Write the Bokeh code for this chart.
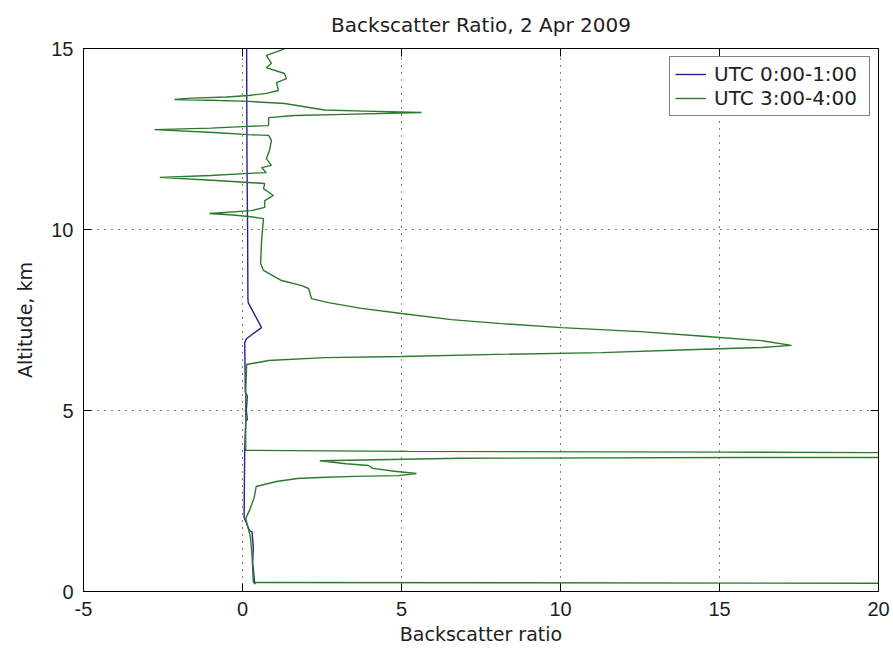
from bokeh.plotting import figure
from bokeh.models import Range1d, LinearAxis, FixedTicker, Legend, LegendItem, CustomJSTickFormatter
from bokeh.embed import file_html
from bokeh.resources import INLINE

# UTC 0:00-1:00 profile
blue_x = [0.13, 0.14, 0.16, 0.17, 0.18, 0.60, 0.13, 0.07, 0.09, 0.15, 0.12, 0.15, 0.10, 0.07, 0.05, 0.22, 0.30, 0.34, 0.32, 0.38, 0.40]
blue_y = [15.0, 12.0, 10.0, 8.10, 7.98, 7.29, 6.99, 6.88, 5.50, 5.40, 5.00, 4.75, 4.70, 3.90, 2.05, 1.68, 1.65, 1.20, 0.80, 0.24, 0.20]

# UTC 3:00-4:00 profile
green_x = [1.32, 1.20, 0.75, 0.91, 0.75, 1.32, 1.38, 1.07, 1.13, 0.75, 0.19, -0.5, -1.6, -2.14, -1.0, 0.19,
           1.32, 2.58, 3.84, 5.63, 3.2, 1.64, 0.82, 0.82, 0.19, -1.0, -2.77, -0.91, 0.19, 0.82, 0.91, 0.85,
           0.75, 0.91, 0.60, 0.75, 0.19, -1.0, -2.6, -0.97, 0.19, 0.70, 0.66, 0.97, 0.70, 0.70, 0.28, -1.04,
           -0.3, 0.19, 0.66, 0.62, 0.60, 0.57, 0.66, 1.23, 1.86, 2.08, 2.17, 2.70, 3.74, 5.00, 6.57, 8.14,
           10.03, 12.5, 14.5, 16.3, 17.26, 16.3, 14.0, 11.29, 8.0, 5.00, 2.58, 0.82, 0.13, 0.10, 0.10, 0.10,
           5.2, 15.1, 25.0, 25.0, 15.6, 6.87, 2.43, 3.27, 3.96, 4.1, 4.78, 5.47, 4.9, 3.5, 2.43, 1.73,
           1.07, 0.43, 0.37, 0.22, 0.10, 0.25, 0.30, 0.34, 25.0]
green_y = [15.0, 14.95, 14.81, 14.59, 14.47, 14.31, 14.17, 14.06, 13.84, 13.76, 13.70, 13.66, 13.63, 13.59, 13.57, 13.54,
           13.48, 13.30, 13.27, 13.23, 13.18, 13.15, 13.09, 12.87, 12.85, 12.80, 12.76, 12.68, 12.62, 12.60, 12.46, 12.18,
           11.96, 11.77, 11.71, 11.57, 11.55, 11.49, 11.44, 11.36, 11.30, 11.27, 11.13, 10.94, 10.80, 10.61, 10.52, 10.44,
           10.40, 10.36, 10.30, 9.90, 9.70, 9.06, 8.87, 8.59, 8.45, 8.37, 8.09, 7.98, 7.82, 7.68, 7.51, 7.40,
           7.29, 7.18, 7.05, 6.93, 6.80, 6.74, 6.68, 6.60, 6.55, 6.49, 6.46, 6.38, 6.27, 5.50, 4.50, 3.90,
           3.87, 3.85, 3.82, 3.70, 3.70, 3.68, 3.61, 3.53, 3.48, 3.40, 3.32, 3.26, 3.20, 3.18, 3.15, 3.12,
           3.04, 2.90, 2.60, 2.24, 2.02, 1.50, 1.00, 0.25, 0.22]

x_ticks = [-5, 0, 5, 10, 15, 20]
y_ticks = [0, 5, 10, 15]
labels = ["UTC 0:00-1:00", "UTC 3:00-4:00"]
title_text = "Backscatter Ratio, 2 Apr 2009"
x_label = "Backscatter ratio"
y_label = "Altitude, km"

FONT = "DejaVu Sans"
TFONT = "Liberation Sans"
TXT = "#1e1e1e"

p = figure(frame_width=795, frame_height=543, output_backend="svg", toolbar_location=None,
           x_range=Range1d(-5, 20), y_range=Range1d(0, 15),
           min_border_left=83, min_border_right=15, min_border_top=48, min_border_bottom=62,
           background_fill_color="white", border_fill_color="white")

p.title.text = title_text
p.title.align = "center"
p.title.text_font = FONT
p.title.text_font_size = "20px"
p.title.text_font_style = "normal"
p.title.text_color = TXT
p.title.standoff = 20
p.title.vertical_align = "top"

r_blue = p.line(blue_x, blue_y, line_color="#23238c", line_width=1.4)
r_green = p.line(green_x, green_y, line_color="#2a7a2a", line_width=1.4)

p.outline_line_color = "black"
p.outline_line_width = 1

for ax in (p.xaxis[0], p.yaxis[0]):
    ax.major_tick_in = 8
    ax.major_tick_out = 0
    ax.minor_tick_line_color = None
    ax.major_label_text_font = TFONT
    ax.major_label_text_font_size = "20px"
    ax.major_label_text_color = TXT
    ax.axis_label_text_font = FONT
    ax.axis_label_text_font_size = "19px"
    ax.axis_label_text_font_style = "normal"
    ax.axis_label_text_color = TXT
    ax.axis_line_color = "black"
    ax.major_tick_line_color = "black"

p.xaxis[0].ticker = FixedTicker(ticks=x_ticks)
p.yaxis[0].ticker = FixedTicker(ticks=y_ticks)
p.xaxis[0].major_label_overrides = {t: str(t) for t in x_ticks}
p.xaxis[0].axis_label = x_label
p.yaxis[0].axis_label = y_label
p.xaxis[0].major_label_standoff = 10
p.xaxis[0].axis_label_standoff = 4
p.yaxis[0].major_label_standoff = 10
p.yaxis[0].axis_label_standoff = 12

top_ax = LinearAxis(ticker=FixedTicker(ticks=x_ticks), major_tick_in=8, major_tick_out=0,
                    minor_tick_line_color=None, formatter=CustomJSTickFormatter(code="return ''"),
                    major_label_standoff=0)
right_ax = LinearAxis(ticker=FixedTicker(ticks=y_ticks), major_tick_in=8, major_tick_out=0,
                      minor_tick_line_color=None, formatter=CustomJSTickFormatter(code="return ''"),
                      major_label_standoff=0)
p.add_layout(top_ax, "above")
p.add_layout(right_ax, "right")

p.xgrid.ticker = FixedTicker(ticks=x_ticks)
p.ygrid.ticker = FixedTicker(ticks=y_ticks)
p.grid.grid_line_color = "black"
p.grid.grid_line_dash = "1 6"
p.grid.grid_line_width = 1

legend = Legend(items=[LegendItem(label=labels[0], renderers=[r_blue]),
                       LegendItem(label=labels[1], renderers=[r_green])],
                location="top_right")
legend.label_text_font = FONT
legend.label_text_font_size = "20px"
legend.label_text_color = TXT
legend.glyph_width = 31
legend.glyph_height = 20
legend.label_height = 20
legend.label_width = 150
legend.label_standoff = 8
legend.padding = 5
legend.spacing = 0
legend.margin = 8
legend.border_line_color = "black"
legend.border_line_width = 1
legend.background_fill_color = "white"
legend.background_fill_alpha = 1
p.add_layout(legend)

open("out.html", "w").write(file_html(p, INLINE))
